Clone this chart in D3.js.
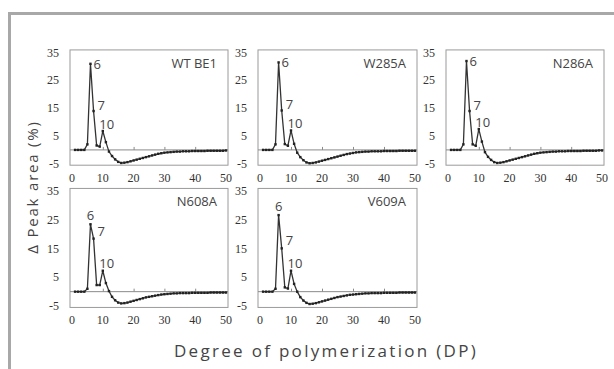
<!DOCTYPE html>
<html>
<head>
<meta charset="utf-8">
<script src="https://cdn.jsdelivr.net/npm/d3@7"></script>
<style>
  body { margin: 0; background: #fff; }
  svg { display: block; }
</style>
</head>
<body>
<svg id="chart" width="614" height="369"></svg>
<script>
// degree of polymerization 1..50
var dp = d3.range(1, 51);

var yTicks = [-5, 5, 15, 25, 35];
var xTicks = [0, 10, 20, 30, 40, 50];
var peakLabels = [6, 7, 10];

var names = ['WT BE1', 'W285A', 'N286A', 'N608A', 'V609A'];

// delta peak area (%), DP1..DP50
var wtBE1 = [0,0,0,0,2,31,14,1.6,1.2,6.8,2.8,-0.6,-2.2,-3.4,-4.3,-4.7,-4.6,-4.4,-4.1,-3.8,
  -3.5,-3.2,-2.9,-2.6,-2.3,-2.0,-1.7,-1.4,-1.2,-1.0,-0.9,-0.8,-0.7,-0.6,-0.6,-0.5,-0.5,-0.5,-0.4,-0.4,
  -0.4,-0.4,-0.4,-0.3,-0.3,-0.3,-0.3,-0.3,-0.3,-0.2];
var w285A = [0,0,0,0,2,31.5,14.2,2.1,1.5,7,2.2,-1,-2.6,-3.7,-4.5,-4.8,-4.7,-4.5,-4.2,-3.9,
  -3.6,-3.3,-3.0,-2.7,-2.4,-2.1,-1.8,-1.5,-1.3,-1.1,-0.9,-0.8,-0.7,-0.6,-0.6,-0.5,-0.5,-0.5,-0.5,-0.4,
  -0.4,-0.4,-0.4,-0.4,-0.3,-0.3,-0.3,-0.3,-0.3,-0.3];
var n286A = [0,0,0,0,2,32,14,2,1.5,7.5,3,-0.8,-2.5,-3.6,-4.4,-4.7,-4.6,-4.4,-4.1,-3.8,
  -3.5,-3.2,-2.9,-2.6,-2.3,-2.0,-1.7,-1.4,-1.2,-1.0,-0.9,-0.8,-0.7,-0.6,-0.6,-0.5,-0.5,-0.5,-0.4,-0.4,
  -0.4,-0.4,-0.4,-0.3,-0.3,-0.3,-0.3,-0.3,-0.2,-0.2];
var n608A = [0,0,0,0,1,23.5,18.5,2.3,2.3,7.3,3,0.2,-1.8,-3.0,-3.8,-4.1,-4.0,-3.8,-3.5,-3.2,
  -2.9,-2.6,-2.3,-2.0,-1.8,-1.6,-1.4,-1.2,-1.0,-0.9,-0.8,-0.7,-0.6,-0.6,-0.5,-0.5,-0.5,-0.5,-0.4,-0.4,
  -0.4,-0.4,-0.4,-0.4,-0.3,-0.3,-0.3,-0.3,-0.3,-0.3];
var v609A = [0,0,0,0,1,26.7,15.1,1.5,1.1,7.3,2.7,0,-1.9,-3.1,-3.9,-4.3,-4.2,-4.0,-3.7,-3.4,
  -3.1,-2.8,-2.5,-2.2,-1.9,-1.7,-1.5,-1.3,-1.1,-1.0,-0.9,-0.8,-0.7,-0.6,-0.6,-0.5,-0.5,-0.5,-0.5,-0.4,
  -0.4,-0.4,-0.4,-0.4,-0.3,-0.3,-0.3,-0.3,-0.3,-0.3];

var series = [wtBE1, w285A, n286A, n608A, v609A];

// layout
var cols = [[72, 226], [260, 415], [448, 602]];
var rows = [[163.8, 52.7], [306, 191.3]];
var serif = '"Liberation Serif", "DejaVu Serif", serif';
var sans = '"Open Sans", "Noto Sans", sans-serif';

var svg = d3.select('#chart');

// gray frame
svg.append('path')
  .attr('d', 'M9.5,369 V13.5 H614')
  .attr('fill', 'none')
  .attr('stroke', '#a8a8a8')
  .attr('stroke-width', 3);

series.forEach(function(vals, i){
  var r = Math.floor(i / 3), c = i % 3;
  var x = d3.scaleLinear().domain([0, 50]).range(cols[c]);
  var y = d3.scaleLinear().domain([-5, 35]).range(rows[r]);
  var g = svg.append('g');

  var x0 = x(0) - 2, x1 = x(50) + 2;
  var yTop = y(36), yBot = y(-5.5);

  // box
  g.append('rect')
    .attr('x', x0).attr('y', yTop)
    .attr('width', x1 - x0).attr('height', yBot - yTop)
    .attr('fill', 'none')
    .attr('stroke', '#9a9a9a')
    .attr('stroke-width', 1);

  // zero line with small ticks
  var xAxis = d3.axisTop(x).tickValues([10, 20, 30, 40]).tickSize(3).tickFormat('');
  var ax = g.append('g')
    .attr('transform', 'translate(0,' + y(0) + ')')
    .call(xAxis);
  ax.select('.domain').remove();
  ax.append('line')
    .attr('x1', x0).attr('x2', x1)
    .attr('stroke', '#8a8a8a').attr('stroke-width', 1);
  ax.selectAll('.tick line').attr('stroke', '#8a8a8a');

  // y tick labels
  g.selectAll('text.yt')
    .data(yTicks)
    .enter().append('text')
    .attr('class', 'yt')
    .attr('x', x0 - 11)
    .attr('y', function(d){ return y(d) + 4; })
    .attr('text-anchor', 'end')
    .attr('font-family', serif)
    .attr('font-size', 12)
    .attr('fill', '#333')
    .text(function(d){ return d; });

  // x tick labels
  g.selectAll('text.xt')
    .data(xTicks)
    .enter().append('text')
    .attr('class', 'xt')
    .attr('x', function(d){ return x(d); })
    .attr('y', yBot + 17)
    .attr('text-anchor', 'middle')
    .attr('font-family', serif)
    .attr('font-size', 12)
    .attr('fill', '#333')
    .text(function(d){ return d; });

  // curve
  var line = d3.line()
    .x(function(d, k){ return x(dp[k]); })
    .y(function(d){ return y(d); });

  g.append('path')
    .datum(vals)
    .attr('d', line)
    .attr('fill', 'none')
    .attr('stroke', '#333')
    .attr('stroke-width', 1.3);

  g.selectAll('rect.pt')
    .data(vals)
    .enter().append('rect')
    .attr('class', 'pt')
    .attr('x', function(d, k){ return x(dp[k]) - 1.2; })
    .attr('y', function(d){ return y(d) - 1.2; })
    .attr('width', 2.4).attr('height', 2.4)
    .attr('fill', '#222');

  // panel title
  g.append('text')
    .attr('x', x1 - 11)
    .attr('y', yTop + 18)
    .attr('text-anchor', 'end')
    .attr('font-family', sans)
    .attr('font-size', 13)
    .attr('fill', '#444')
    .text(names[i]);

  // peak labels
  peakLabels.forEach(function(p){
    var px = x(p), py = y(vals[p - 1]);
    var t = g.append('text')
      .attr('font-family', sans)
      .attr('font-size', 13)
      .attr('fill', '#444')
      .text(p);
    if(p === 6){
      if(r === 0){
        t.attr('x', px + 3).attr('y', py + 5);
      }else{
        t.attr('x', px).attr('y', py - 4).attr('text-anchor', 'middle');
      }
    }else if(p === 7){
      t.attr('x', px + 4).attr('y', py + (r === 0 ? -1.5 : -3));
    }else{
      t.attr('x', px + 4).attr('y', py - 2.5).attr('text-anchor', 'middle');
    }
  });
});

// axis titles
svg.append('text')
  .attr('transform', 'translate(38,187) rotate(-90)')
  .attr('text-anchor', 'middle')
  .attr('font-family', sans)
  .attr('font-size', 15)
  .attr('letter-spacing', 1.8)
  .attr('fill', '#444')
  .text('\u0394 Peak area (%)');

svg.append('text')
  .attr('x', 326)
  .attr('y', 357)
  .attr('text-anchor', 'middle')
  .attr('font-family', sans)
  .attr('font-size', 17)
  .attr('letter-spacing', 2.3)
  .attr('fill', '#444')
  .text('Degree of polymerization (DP)');
</script>
</body>
</html>
